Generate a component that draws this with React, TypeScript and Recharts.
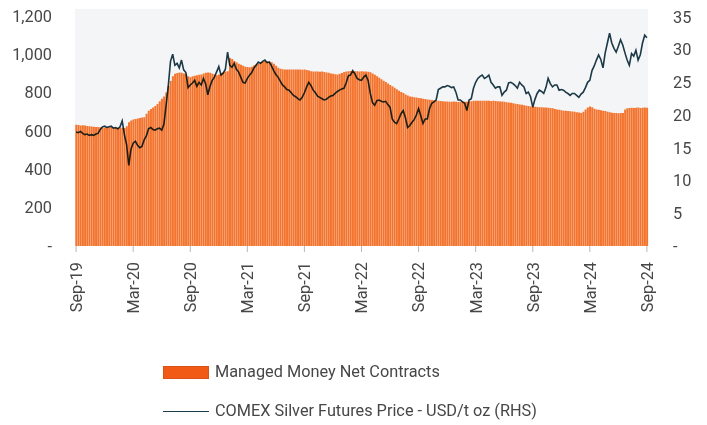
import { ComposedChart, Bar, Line, XAxis, YAxis, CartesianGrid } from 'recharts';

// weekly, Sep 2019 -> Sep 2024
const netContracts = [
  632, 631, 629, 630, 628, 626, 625, 623, 622, 621,
  620, 619, 618, 617, 618, 619, 620, 618, 617, 616,
  618, 617, 616, 625, 645, 655, 660, 662, 665, 668,
  670, 672, 690, 705, 715, 722, 730, 740, 755, 768,
  780, 800, 835, 860, 885, 898, 902, 905, 903, 900,
  898, 885, 880, 885, 888, 890, 893, 895, 900, 903,
  905, 903, 898, 895, 890, 895, 902, 908, 910, 912,
  980, 975, 965, 958, 950, 945, 940, 935, 933, 932,
  935, 942, 948, 952, 958, 962, 965, 963, 960, 958,
  950, 940, 930, 925, 922, 921, 920, 920, 921, 920,
  921, 920, 920, 919, 920, 918, 915, 912, 910, 910,
  910, 909, 910, 908, 905, 903, 900, 898, 896, 895,
  898, 902, 907, 910, 912, 913, 912, 912, 911, 910,
  911, 910, 910, 909, 906, 900, 893, 885, 878, 870,
  862, 855, 848, 840, 833, 825, 818, 810, 803, 798,
  790, 785, 780, 778, 776, 774, 772, 770, 768, 766,
  764, 763, 762, 760, 758, 757, 756, 755, 754, 753,
  752, 752, 753, 752, 751, 752, 753, 752, 752, 753,
  755, 757, 758, 758, 757, 758, 757, 758, 757, 756,
  757, 756, 755, 754, 753, 752, 750, 748, 747, 745,
  742, 740, 738, 736, 734, 732, 730, 728, 727, 726,
  725, 724, 723, 722, 722, 721, 720, 718, 715, 712,
  710, 708, 706, 705, 704, 703, 702, 700, 698, 696,
  694, 700, 712, 722, 728, 724, 716, 712, 710, 708,
  706, 704, 700, 697, 695, 694, 693, 692, 693, 694,
  712, 718, 720, 721, 720, 721, 722, 720, 721, 722, 721,
];

const silverPrice = [
  17.4, 17.3, 17.5, 17.2, 17.0, 17.1, 16.9, 17.0, 16.9, 17.1,
  17.2, 17.8, 18.2, 18.3, 18.1, 18.2, 18.3, 18.0, 18.1, 17.9,
  18.2, 19.1, 17.0, 15.5, 12.3, 14.8, 15.7, 16.0, 15.4, 15.0,
  15.2, 16.2, 16.8, 17.9, 18.1, 17.8, 17.7, 17.9, 18.0, 17.7,
  18.6, 21.5, 24.5, 28.2, 29.3, 27.6, 27.9, 27.2, 28.4, 26.9,
  26.5, 24.2, 24.6, 24.9, 25.3, 24.4, 25.0, 24.6, 25.6, 24.8,
  23.1, 24.4, 25.3, 25.8, 26.6, 27.4, 26.1, 26.4, 27.0, 29.6,
  27.6, 27.3, 27.9, 27.0, 26.6, 25.8, 25.0, 24.9, 25.6, 26.1,
  26.5, 27.2, 27.6, 28.1, 27.9, 28.2, 28.4, 28.0, 28.1, 27.5,
  26.8, 26.2, 25.8, 25.2, 24.6, 24.3, 23.9, 23.8, 23.4, 23.0,
  22.8, 22.5, 22.3, 22.7, 23.4, 24.3, 25.0, 24.5, 23.8, 23.4,
  22.9, 22.7, 22.5, 22.3, 22.4, 22.7, 22.9, 23.0, 23.3, 23.6,
  23.8, 24.0, 24.1, 24.9, 26.0, 26.1, 26.8, 26.3, 25.6, 25.4,
  25.3, 25.8, 26.1, 25.3, 23.3, 21.9, 21.5, 22.2, 22.3, 22.1,
  22.0, 22.1, 21.6, 21.2, 19.4, 18.9, 18.7, 19.4, 20.2, 20.7,
  19.6, 18.1, 18.4, 18.9, 19.3, 20.0, 21.0, 19.9, 18.7, 19.4,
  19.4, 21.0, 21.8, 22.0, 22.3, 23.9, 24.1, 24.3, 24.3, 24.5,
  24.4, 24.2, 24.3, 23.5, 22.3, 22.3, 22.0, 21.8, 20.7, 22.3,
  22.5, 24.1, 25.0, 25.6, 25.9, 26.1, 25.6, 25.8, 26.1, 25.0,
  24.6, 24.1, 24.3, 24.3, 23.0, 23.5, 23.8, 24.9, 25.0, 24.8,
  24.5, 24.1, 25.0, 24.6, 24.3, 23.3, 23.5, 22.8, 21.2, 22.4,
  23.3, 23.8, 23.6, 23.3, 24.2, 25.6, 24.8, 24.3, 24.6, 24.6,
  23.8, 23.9, 23.8, 23.5, 23.3, 23.0, 23.3, 23.3, 23.0, 22.7,
  23.2, 23.5, 24.2, 25.0, 25.3, 26.8, 27.5, 28.4, 29.2, 28.5,
  27.2, 29.5, 31.0, 32.5, 31.0, 30.2, 29.6, 30.5, 31.5, 30.7,
  29.5, 28.4, 27.6, 29.4, 29.0, 29.9, 28.4, 29.2, 31.0, 32.2, 31.8,
];

const tickLabels = [
  'Sep-19', 'Mar-20', 'Sep-20', 'Mar-21', 'Sep-21', 'Mar-22',
  'Sep-22', 'Mar-23', 'Sep-23', 'Mar-24', 'Sep-24',
];
const leftTicks = [0, 200, 400, 600, 800, 1000, 1200];
const rightTicks = [0, 5, 10, 15, 20, 25, 30, 35];

const WEEKS_PER_TICK = 26;
const ORANGE = '#f4742e';
const NAVY = '#1d3b4a';
const TEXT = '#474747';
const FONT = 'Roboto, "Noto Sans", sans-serif';

const chartData = netContracts.map((v, i) => ({ i, net: v, price: silverPrice[i] }));
const xTicks = tickLabels.map((_, k) => k * WEEKS_PER_TICK);

function dashZero(v: number, fmt: (n: number) => string) {
  return v === 0 ? '-' : fmt(v);
}

function DateTick({ x, y, payload }: any) {
  const label = tickLabels[Math.round(payload.value / WEEKS_PER_TICK)];
  const top = y + 8;
  return (
    <text
      x={x}
      y={top}
      transform={`rotate(-90 ${x} ${top})`}
      textAnchor="end"
      dy="0.36em"
      fill={TEXT}
      fontSize={16.3}
      fontFamily={FONT}
    >
      {label}
    </text>
  );
}

export default function App() {
  return (
    <div style={{ position: 'relative', width: 707, height: 425, background: '#fff', fontFamily: FONT }}>
      <style>{`body{margin:0}.recharts-line-curve{mix-blend-mode:multiply}`}</style>
      <ComposedChart
        width={707}
        height={340}
        data={chartData}
        margin={{ top: 9, right: 0, bottom: 0, left: 0 }}
        barCategoryGap="14%"
      >
        <CartesianGrid horizontal={false} vertical={false} fill="#f3f5f6" fillOpacity={1} />
        <XAxis
          dataKey="i"
          type="category"
          ticks={xTicks}
          interval={0}
          height={94}
          tick={<DateTick />}
          tickSize={6}
          tickLine={{ stroke: '#b8b8b8' }}
          axisLine={false}
        />
        <YAxis
          yAxisId="left"
          width={75}
          domain={[0, 1236]}
          ticks={leftTicks}
          allowDataOverflow
          axisLine={false}
          tickLine={false}
          tickMargin={17}
          tick={{ fill: TEXT, fontSize: 16.3, fontFamily: FONT }}
          tickFormatter={(v) => dashZero(v, (n) => n.toLocaleString('en-US'))}
        />
        <YAxis
          yAxisId="right"
          orientation="right"
          width={59}
          domain={[0, 36.2]}
          ticks={rightTicks}
          allowDataOverflow
          axisLine={false}
          tickLine={false}
          tickMargin={19}
          tick={{ fill: TEXT, fontSize: 16.3, fontFamily: FONT, textAnchor: 'start' }}
          tickFormatter={(v) => dashZero(v, (n) => String(n))}
        />
        <Bar yAxisId="left" dataKey="net" fill={ORANGE} isAnimationActive={false} />
        <Line
          yAxisId="right"
          dataKey="price"
          type="linear"
          stroke={NAVY}
          strokeWidth={1.6}
          dot={false}
          isAnimationActive={false}
        />
      </ComposedChart>

      {/* legend */}
      <div style={{ position: 'absolute', left: 163, top: 362, display: 'flex', alignItems: 'center' }}>
        <div style={{ width: 46, height: 13, background: '#f05a14', border: '1px solid #d8521a', boxSizing: 'border-box' }} />
        <span style={{ marginLeft: 6, fontSize: 16.3, color: TEXT, lineHeight: '20px' }}>Managed Money Net Contracts</span>
      </div>
      <div style={{ position: 'absolute', left: 163, top: 401, display: 'flex', alignItems: 'center' }}>
        <div style={{ width: 46, height: 0, borderTop: `1.5px solid ${NAVY}` }} />
        <span style={{ marginLeft: 6, fontSize: 16.3, color: TEXT, lineHeight: '20px' }}>
          COMEX Silver Futures Price - USD/t oz (RHS)
        </span>
      </div>
    </div>
  );
}
